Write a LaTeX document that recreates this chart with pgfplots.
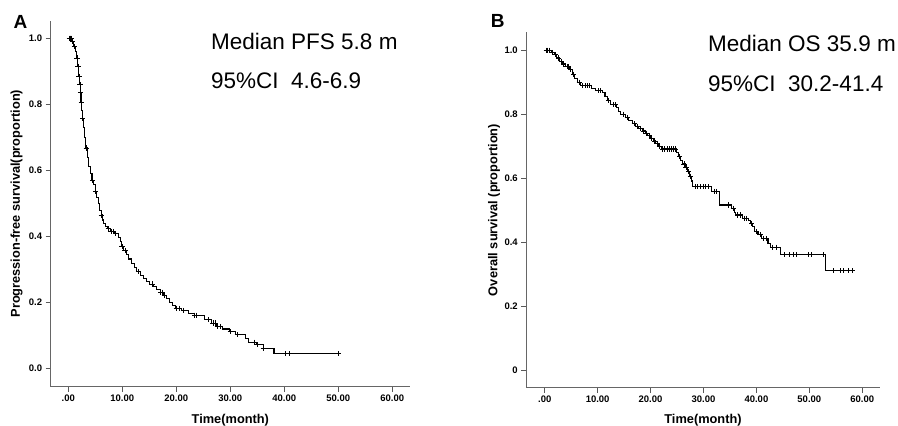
\documentclass[border=0pt]{standalone}
\usepackage{fontspec}
\setmainfont{Liberation Sans}
\usepackage{pgfplots}
\pgfplotsset{compat=1.18}

% Kaplan-Meier steps (time, survival) and censor marks
\pgfplotstableread{
t s
0 1.000
0.7 0.990
1.0 0.975
1.3 0.960
1.5 0.940
1.7 0.915
1.95 0.885
2.1 0.860
2.2 0.835
2.35 0.805
2.5 0.780
2.6 0.758
2.8 0.730
3.0 0.700
3.25 0.668
3.5 0.640
3.8 0.612
4.1 0.590
4.4 0.570
4.7 0.556
5.0 0.535
5.3 0.518
5.6 0.500
5.85 0.480
6.1 0.465
6.35 0.450
6.6 0.440
6.9 0.430
7.3 0.423
7.8 0.415
8.6 0.408
9.3 0.398
9.6 0.384
9.9 0.370
10.3 0.358
10.8 0.345
11.2 0.332
11.7 0.318
12.2 0.305
12.7 0.294
13.3 0.283
13.9 0.273
14.5 0.264
15.1 0.256
15.8 0.248
16.4 0.240
17.0 0.231
17.6 0.222
18.2 0.212
18.8 0.201
19.3 0.190
19.8 0.183
21.0 0.176
22.2 0.168
23.3 0.162
25.3 0.148
26.6 0.138
27.4 0.128
28.6 0.120
29.9 0.112
31.0 0.103
32.9 0.090
33.3 0.080
34.8 0.072
36.1 0.060
38.1 0.045
50.1 0.045
}\pfsstep

\pgfplotstableread{
t s
0.15 1.0
0.3 1.0
0.45 1.0
0.6 1.0
0.85 0.99
1.1 0.975
1.6 0.94
1.8 0.915
2.0 0.885
2.15 0.86
2.25 0.835
2.4 0.805
2.65 0.758
3.3 0.668
4.5 0.57
5.1 0.535
6.1 0.465
7.4 0.423
7.9 0.415
8.3 0.415
8.8 0.408
9.95 0.37
10.5 0.358
13.0 0.294
15.6 0.256
17.1 0.231
17.4 0.231
17.8 0.222
20.0 0.183
20.5 0.183
21.3 0.176
23.4 0.162
23.8 0.162
25.9 0.148
26.8 0.138
27.2 0.138
27.6 0.128
28.2 0.128
30.0 0.112
31.3 0.103
34.5 0.080
35.1 0.072
36.1 0.060
40.3 0.045
40.9 0.045
50.1 0.045
}\pfscens

\pgfplotstableread{
t s
0 1.000
1.2 0.993
1.8 0.986
2.3 0.976
2.8 0.966
3.4 0.957
3.9 0.949
4.7 0.939
5.2 0.925
5.7 0.912
6.2 0.900
6.8 0.889
8.8 0.882
9.6 0.874
10.9 0.867
11.4 0.856
11.9 0.843
12.4 0.830
13.5 0.822
13.9 0.810
14.3 0.800
15.3 0.790
15.9 0.780
16.6 0.771
17.2 0.763
17.8 0.755
18.4 0.748
19.0 0.741
19.5 0.733
20.0 0.725
20.5 0.717
21.0 0.709
21.5 0.701
22.0 0.692
24.9 0.680
25.3 0.668
25.7 0.656
26.1 0.645
26.5 0.633
26.9 0.621
27.4 0.607
27.7 0.592
28.0 0.574
31.5 0.559
33.1 0.517
35.3 0.507
35.8 0.495
36.0 0.486
37.3 0.476
38.5 0.470
38.8 0.460
39.3 0.449
39.6 0.434
40.3 0.424
41.0 0.413
42.2 0.397
42.6 0.385
44.5 0.362
53.0 0.312
58.7 0.312
}\osstep

\pgfplotstableread{
t s
0.3 1.0
0.6 1.0
0.9 1.0
1.5 0.993
2.0 0.986
2.6 0.976
3.1 0.966
3.6 0.957
4.2 0.949
4.5 0.949
4.9 0.939
5.5 0.925
6.5 0.900
7.2 0.889
7.6 0.889
8.1 0.889
8.5 0.889
10.2 0.874
10.6 0.874
12.1 0.843
12.9 0.830
13.3 0.830
14.8 0.800
15.6 0.790
16.9 0.771
17.5 0.763
18.0 0.755
18.6 0.748
19.2 0.741
19.7 0.733
20.2 0.725
20.7 0.717
21.2 0.709
21.7 0.701
22.3 0.692
22.7 0.692
23.1 0.692
23.5 0.692
23.9 0.692
24.3 0.692
24.6 0.692
25.5 0.668
26.3 0.645
26.7 0.633
27.2 0.621
27.5 0.607
28.4 0.574
28.9 0.574
29.4 0.574
29.9 0.574
30.4 0.574
31.0 0.574
32.0 0.559
32.5 0.559
34.8 0.517
35.6 0.507
36.5 0.486
37.0 0.486
37.8 0.476
38.2 0.476
39.1 0.460
40.0 0.434
40.8 0.424
41.4 0.413
41.8 0.413
43.1 0.385
43.7 0.385
45.2 0.362
46.3 0.362
47.0 0.362
47.6 0.362
49.8 0.362
50.4 0.362
52.6 0.362
54.5 0.312
55.9 0.312
56.5 0.312
57.4 0.312
58.2 0.312
}\oscens

\pgfplotsset{
  kmaxis/.style={
    scale only axis, anchor=south west,
    axis lines=left, axis line style={-, draw=black!60, line width=0.9pt},
    tick align=outside, major tick length=5pt,
    tick style={draw=black!65, line width=0.9pt},
    xtick={0,10,20,30,40,50,60},
    xticklabels={.00,10.00,20.00,30.00,40.00,50.00,60.00},
    ytick={0,0.2,0.4,0.6,0.8,1.0},
    tick label style={font=\fontsize{9.5}{11}\selectfont\bfseries},
    label style={font=\fontsize{12.8}{14}\selectfont\bfseries},
    xlabel={Time(month)},
    clip=false,
  },
  kmstep/.style={const plot mark left, black, line width=1.1pt, no marks},
  kmcens/.style={only marks, mark=+, mark size=2.6pt, black, mark options={line width=0.8pt}},
}

\begin{document}
\begin{tikzpicture}
\path[use as bounding box] (0pt,0pt) rectangle (898pt,426pt);

\begin{axis}[kmaxis,
    at={(50.7pt,39.3pt)}, width=359.3pt, height=366pt,
    xmin=-3.26, xmax=63.3, ymin=-0.0545, ymax=1.053,
    yticklabels={0.0,0.2,0.4,0.6,0.8,1.0},
    xlabel style={at={(axis description cs:0.5,-0.1019)}, anchor=base},
    ylabel={Progression-free survival(proportion)},
    ylabel style={at={(axis description cs:-0.0946,0.5)}, anchor=center},
]
\addplot[kmstep] table[x=t, y=s] {\pfsstep};
\addplot[kmcens] table[x=t, y=s] {\pfscens};
\end{axis}

\begin{axis}[kmaxis,
    at={(526.3pt,38.3pt)}, width=353.4pt, height=355.4pt,
    xmin=-3.48, xmax=63.3, ymin=-0.053, ymax=1.056,
    yticklabels={0,0.2,0.4,0.6,0.8,1.0},
    xlabel style={at={(axis description cs:0.5,-0.1021)}, anchor=base},
    ylabel={Overall survival (proportion)},
    ylabel style={at={(axis description cs:-0.0914,0.5)}, anchor=center},
]
\addplot[kmstep] table[x=t, y=s] {\osstep};
\addplot[kmcens] table[x=t, y=s] {\oscens};
\end{axis}

\node[anchor=base west, font=\fontsize{19}{22}\selectfont\bfseries, inner sep=0pt] at (13.3pt,397.7pt) {A};
\node[anchor=base west, font=\fontsize{19}{22}\selectfont\bfseries, inner sep=0pt] at (490.7pt,398.7pt) {B};

\node[anchor=base west, font=\fontsize{22.5}{26}\selectfont, inner sep=0pt] at (211pt,376.7pt) {Median PFS 5.8 m};
\node[anchor=base west, font=\fontsize{22.5}{26}\selectfont, inner sep=0pt] at (211pt,337.7pt) {95\%CI\ \ 4.6-6.9};
\node[anchor=base west, font=\fontsize{22.5}{26}\selectfont, inner sep=0pt] at (708pt,374.3pt) {Median OS 35.9 m};
\node[anchor=base west, font=\fontsize{22.5}{26}\selectfont, inner sep=0pt] at (708pt,334.3pt) {95\%CI\ \ 30.2-41.4};
\end{tikzpicture}
\end{document}
